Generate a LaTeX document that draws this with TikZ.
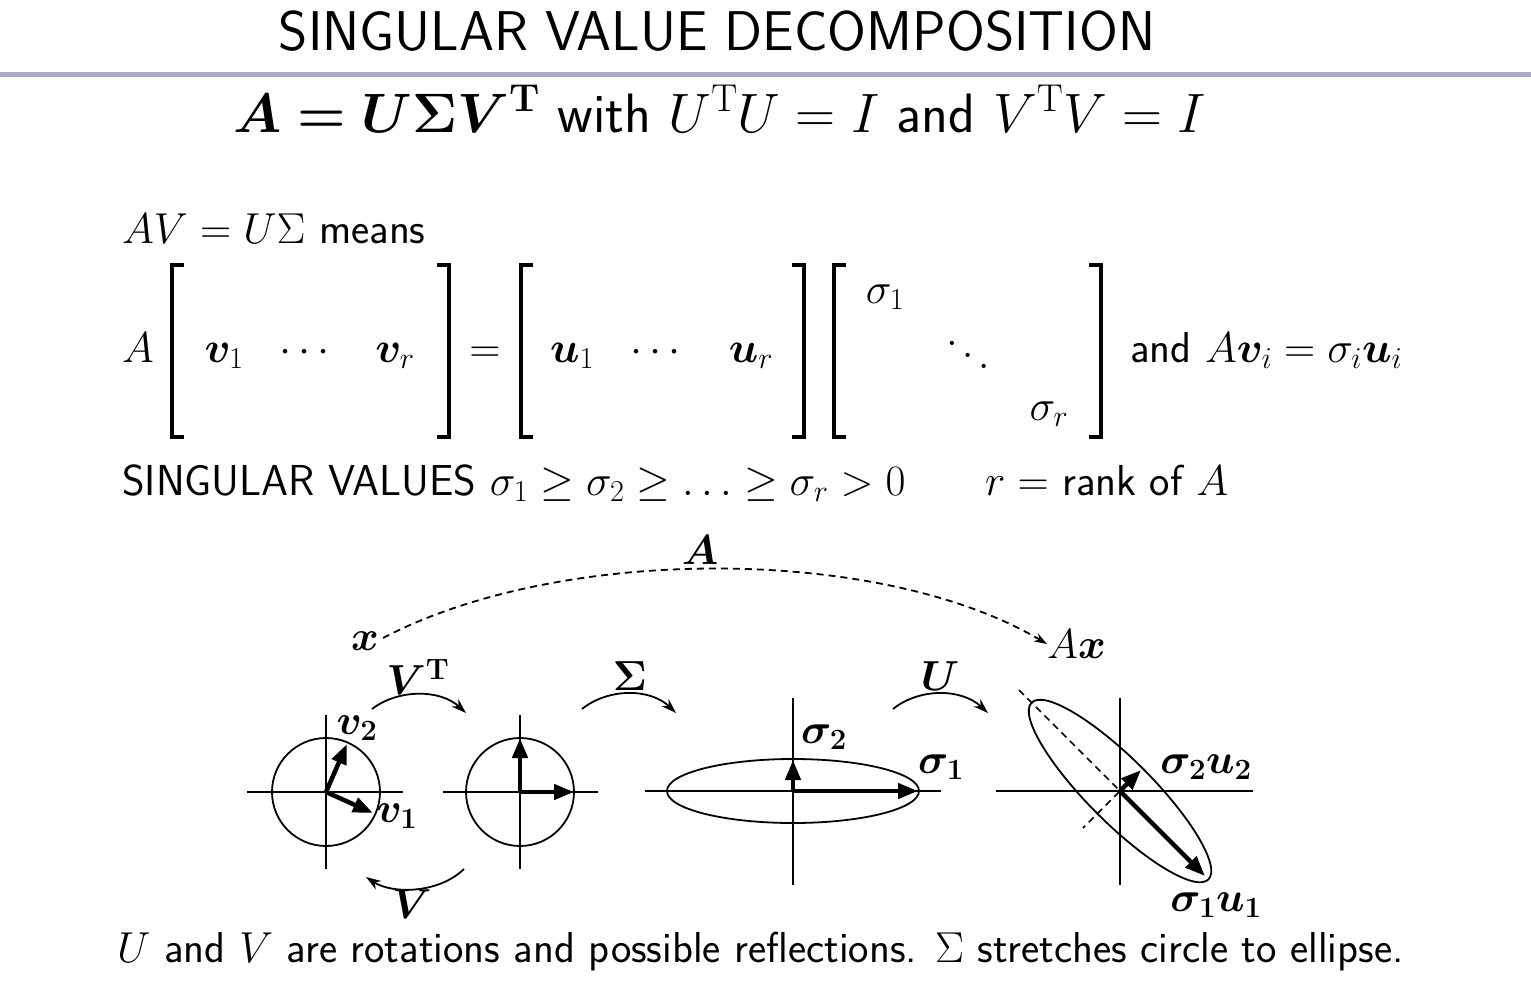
\RequirePackage{fix-cm}
\documentclass[tikz,border=0pt]{standalone}
\usepackage{amsmath,amssymb,bm}
\usetikzlibrary{arrows.meta,shapes.geometric}
\definecolor{rulecol}{RGB}{172,172,196}
\tikzset{
  txt/.style={inner sep=0pt, font=\fontsize{43.3}{50}\selectfont\sffamily},
  lbl/.style={inner sep=0pt, font=\fontsize{42}{48}\selectfont},
  brk/.style={line width=3.5pt, line cap=butt, line join=miter},
  axis/.style={line width=1.8pt},
  curve/.style={line width=1.8pt},
  vec/.style={line width=4.5pt, -{Triangle[length=20pt,width=15pt]}},
  trans/.style={line width=1.8pt, -{Stealth[length=15pt,width=10pt]}},
  dashconn/.style={line width=1.8pt, dashed, dash pattern=on 7pt off 5pt, -{Stealth[length=13pt,width=9pt]}}
}
\begin{document}
\begin{tikzpicture}[x=1pt,y=-1pt]
\useasboundingbox (0,0) rectangle (1531,985);
\fill[white] (0,0) rectangle (1531,985);
% title and rule
\node[anchor=base, inner sep=0pt, font=\fontsize{56}{62}\selectfont\sffamily] (title) at (717,50) {SINGULAR VALUE DECOMPOSITION};
\coordinate (rl) at (0,74);
\coordinate (rr) at (1531,74);
\draw[rulecol, line width=5pt] (rl) -- (rr);
\node[anchor=base, inner sep=0pt, font=\fontsize{55.5}{62}\selectfont\sffamily] (eq) at (720,132) {$\bm{A = U\Sigma V^{\mathbf{T}}}$ with $U^{\mathrm{T}}U = I$ and $V^{\mathrm{T}}V = I$};
% AV = U Sigma
\node[txt, anchor=base west] (avu) at (122,243) {$AV = U\Sigma$ means};
\node[txt, anchor=base west] (Aa) at (122,362) {$A$};
% brackets
\draw[brk] (184,265) -- (172,265) -- (172,437) -- (184,437);
\draw[brk] (437,265) -- (449,265) -- (449,437) -- (437,437);
\draw[brk] (533,265) -- (521,265) -- (521,437) -- (533,437);
\draw[brk] (792,265) -- (804,265) -- (804,437) -- (792,437);
\draw[brk] (846,265) -- (834,265) -- (834,437) -- (846,437);
\draw[brk] (1089,265) -- (1101,265) -- (1101,437) -- (1089,437);
\node[txt, anchor=base] (v1) at (224,362) {$\bm{v}_1$};
\node[txt, anchor=base] (vd) at (308,362) {$\cdots$};
\node[txt, anchor=base] (vr) at (395,362) {$\bm{v}_r$};
\node[txt, anchor=base] (eqs) at (485,362) {$=$};
\node[txt, anchor=base] (u1) at (572,362) {$\bm{u}_1$};
\node[txt, anchor=base] (ud) at (659,362) {$\cdots$};
\node[txt, anchor=base] (ur) at (751,362) {$\bm{u}_r$};
\node[txt, anchor=base] (s1) at (885,303) {$\sigma_1$};
\node[txt, anchor=base west] (sd) at (946,368.5) {$\raisebox{23pt}{$.$}\kern4pt\raisebox{11.5pt}{$.$}\kern4pt.$};
\node[txt, anchor=base] (sr) at (1049,420) {$\sigma_r$};
\node[txt, anchor=base west] (avi) at (1130,362) {and $A\bm{v}_i = \sigma_i\bm{u}_i$};
% singular values
\node[txt, anchor=base west] (sv) at (122,495) {SINGULAR VALUES $\sigma_1 \geq \sigma_2 \geq \ldots \geq \sigma_r > 0$};
\node[txt, anchor=base west] (rk) at (985,495) {$r = $ rank of $A$};
% diagram: centres
\coordinate (O1) at (326,792);
\coordinate (O2) at (520,792);
\coordinate (O3) at (793,791);
\coordinate (O4) at (1120,791);
% circle 1
\draw[curve] (O1) circle[radius=54pt];
\coordinate (h1a) at (247,792); \coordinate (h1b) at (403,792);
\coordinate (v1a) at (326,715); \coordinate (v1b) at (326,869);
\draw[axis] (h1a) -- (h1b);
\draw[axis] (v1a) -- (v1b);
\coordinate (tv2) at (347,744);
\coordinate (tv1) at (373,813);
\draw[vec] (O1) -- (tv2);
\draw[vec] (O1) -- (tv1);
\node[lbl] (lv2) at (357,728) {$\bm{v_2}$};
\node[lbl] (lv1) at (397,816) {$\bm{v_1}$};
% circle 2
\draw[curve] (O2) circle[radius=54pt];
\coordinate (h2a) at (443,792); \coordinate (h2b) at (598,792);
\coordinate (v2a) at (520,715); \coordinate (v2b) at (520,869);
\draw[axis] (h2a) -- (h2b);
\draw[axis] (v2a) -- (v2b);
\coordinate (te2) at (520,738);
\coordinate (te1) at (574,792);
\draw[vec] (O2) -- (te2);
\draw[vec] (O2) -- (te1);
% ellipse 3
\draw[curve] (O3) ellipse[x radius=126pt, y radius=32pt];
\coordinate (h3a) at (645,791); \coordinate (h3b) at (941,791);
\coordinate (v3a) at (793,698); \coordinate (v3b) at (793,885);
\draw[axis] (h3a) -- (h3b);
\draw[axis] (v3a) -- (v3b);
\coordinate (ts2) at (793,760);
\coordinate (ts1) at (918,791);
\draw[vec] (O3) -- (ts2);
\draw[vec] (O3) -- (ts1);
\node[lbl] (ls2) at (824,737) {$\bm{\sigma_2}$};
\node[lbl] (ls1) at (941,767) {$\bm{\sigma_1}$};
% ellipse 4
\node[draw, ellipse, line width=1.8pt, minimum width=250pt, minimum height=64pt, inner sep=0pt, rotate=-45] (el4) at (O4) {};
\coordinate (h4a) at (996,791); \coordinate (h4b) at (1253,791);
\coordinate (v4a) at (1120,698); \coordinate (v4b) at (1120,885);
\draw[axis] (h4a) -- (h4b);
\draw[axis] (v4a) -- (v4b);
\coordinate (d1) at (1019,690);
\coordinate (d2) at (1083,828);
\draw[line width=1.6pt, dashed, dash pattern=on 7pt off 5pt] (d1) -- (O4) -- (d2);
\coordinate (tu1) at (1205,876);
\coordinate (tu2) at (1141,770);
\draw[vec] (O4) -- (tu1);
\draw[vec] (O4) -- (tu2);
\node[lbl] (lu2) at (1206,767) {$\bm{\sigma_2 u_2}$};
\node[lbl] (lu1) at (1216,905) {$\bm{\sigma_1 u_1}$};
% transformation arrows
\coordinate (aVTs) at (372,709); \coordinate (aVTe) at (466,713);
\draw[trans] (aVTs) .. controls (398,689) and (440,689) .. (aVTe);
\node[lbl] (lVT) at (418,677) {$\bm{V^{\mathrm{T}}}$};
\coordinate (aVs) at (464,869); \coordinate (aVe) at (366,877);
\draw[trans] (aVs) .. controls (438,894) and (392,894) .. (aVe);
\node[lbl] (lV) at (412,904) {$\bm{V}$};
\coordinate (aSs) at (582,709); \coordinate (aSe) at (676,713);
\draw[trans] (aSs) .. controls (608,688) and (650,688) .. (aSe);
\node[lbl] (lS) at (630,676) {$\bm{\Sigma}$};
\coordinate (aUs) at (893,709); \coordinate (aUe) at (988,713);
\draw[trans] (aUs) .. controls (919,688) and (961,688) .. (aUe);
\node[lbl] (lU) at (940,676) {$\bm{U}$};
% A x -> Ax
\node[lbl] (lx) at (365,641) {$\bm{x}$};
\node[lbl] (lA) at (700,550) {$\bm{A}$};
\node[lbl, anchor=west] (lAx) at (1047,644) {$A\bm{x}$};
\draw[dashconn] (lx.east) ++(4,-3) .. controls (560,545) and (880,545) .. (lAx.west);
% bottom text
\node[txt, anchor=base west] (bot) at (117,962) {$U$ and $V$ are rotations and possible reflections. $\Sigma$ stretches circle to ellipse.};
\end{tikzpicture}
\end{document}
